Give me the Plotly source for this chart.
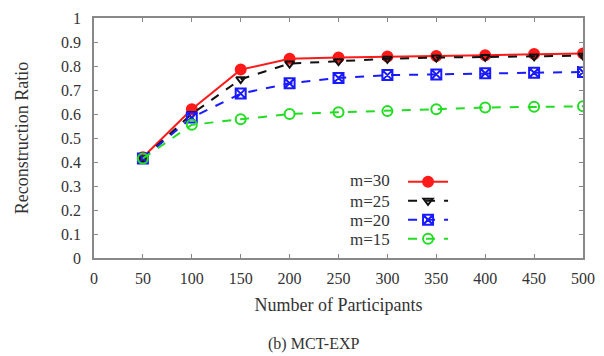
import plotly.graph_objects as go

participants = [50, 100, 150, 200, 250, 300, 350, 400, 450, 500]
m30 = [0.42, 0.62, 0.785, 0.83, 0.835, 0.84, 0.842, 0.845, 0.85, 0.852]
m25 = [0.415, 0.60, 0.745, 0.81, 0.82, 0.83, 0.835, 0.838, 0.84, 0.843]
m20 = [0.415, 0.585, 0.685, 0.728, 0.75, 0.762, 0.765, 0.77, 0.772, 0.775]
m15 = [0.415, 0.555, 0.578, 0.60, 0.607, 0.612, 0.62, 0.627, 0.63, 0.632]
labels = ["m=30", "m=25", "m=20", "m=15"]

series = [
    (m30, "#ff1a1a", "solid", "circle", 10),
    (m25, "#111111", "dash", "triangle-down-open", 8),
    (m20, "#1a1aff", "dash", "square-x-open", 10),
    (m15, "#22dd22", "dash", "circle-open", 10),
]

FONT = "Liberation Serif"
TXT = "#333333"
fig = go.Figure()
for lab, (vals, color, dash, sym, sz) in zip(labels, series):
    fig.add_trace(go.Scatter(
        x=participants, y=vals, name=" ", mode="lines+markers",
        legendgroup=lab, hovertext=lab,
        line=dict(color=color, width=2, dash=dash),
        marker=dict(symbol=sym, size=sz, color=color,
                    line=dict(color=color, width=2)),
    ))

axis_common = dict(
    showline=True, linecolor="#888888", linewidth=1.5, mirror="ticks",
    ticks="inside", ticklen=4, tickcolor="#888888", showgrid=False,
    zeroline=False, automargin=False,
    tickfont=dict(family=FONT, size=16, color=TXT),
)
fig.update_xaxes(range=[0, 500], dtick=50, ticklabelstandoff=5, **axis_common,
                 title=dict(text="Number of Participants",
                            font=dict(family=FONT, size=18, color=TXT),
                            standoff=12))
fig.update_yaxes(range=[0, 1], dtick=0.1, ticklabelstandoff=8, **axis_common,
                 title=dict(text="Reconstruction Ratio",
                            font=dict(family=FONT, size=18, color=TXT),
                            standoff=28))

fig.add_annotation(text="(b) MCT-EXP", xref="paper", yref="paper",
                   x=0.45, y=-0.36, showarrow=False, yanchor="middle",
                   font=dict(family=FONT, size=16, color=TXT))

leg_y = [0.321, 0.2375, 0.158, 0.079]
for lab, yy in zip(labels, leg_y):
    fig.add_annotation(text=lab, xref="paper", yref="paper", x=0.609, y=yy,
                       xanchor="right", yanchor="middle", showarrow=False,
                       font=dict(family=FONT, size=17, color=TXT))

fig.update_layout(
    width=604, height=356,
    margin=dict(l=94, r=21, t=18, b=98, autoexpand=False),
    paper_bgcolor="white", plot_bgcolor="white",
    legend=dict(x=0.632, y=0.378, xanchor="left", yanchor="top",
                bgcolor="rgba(0,0,0,0)", tracegroupgap=0,
                font=dict(family=FONT, size=11, color=TXT),
                itemwidth=40),
)
fig.write_html("out.html", config={"displayModeBar": False},
               post_script="document.body.style.margin='0';")
